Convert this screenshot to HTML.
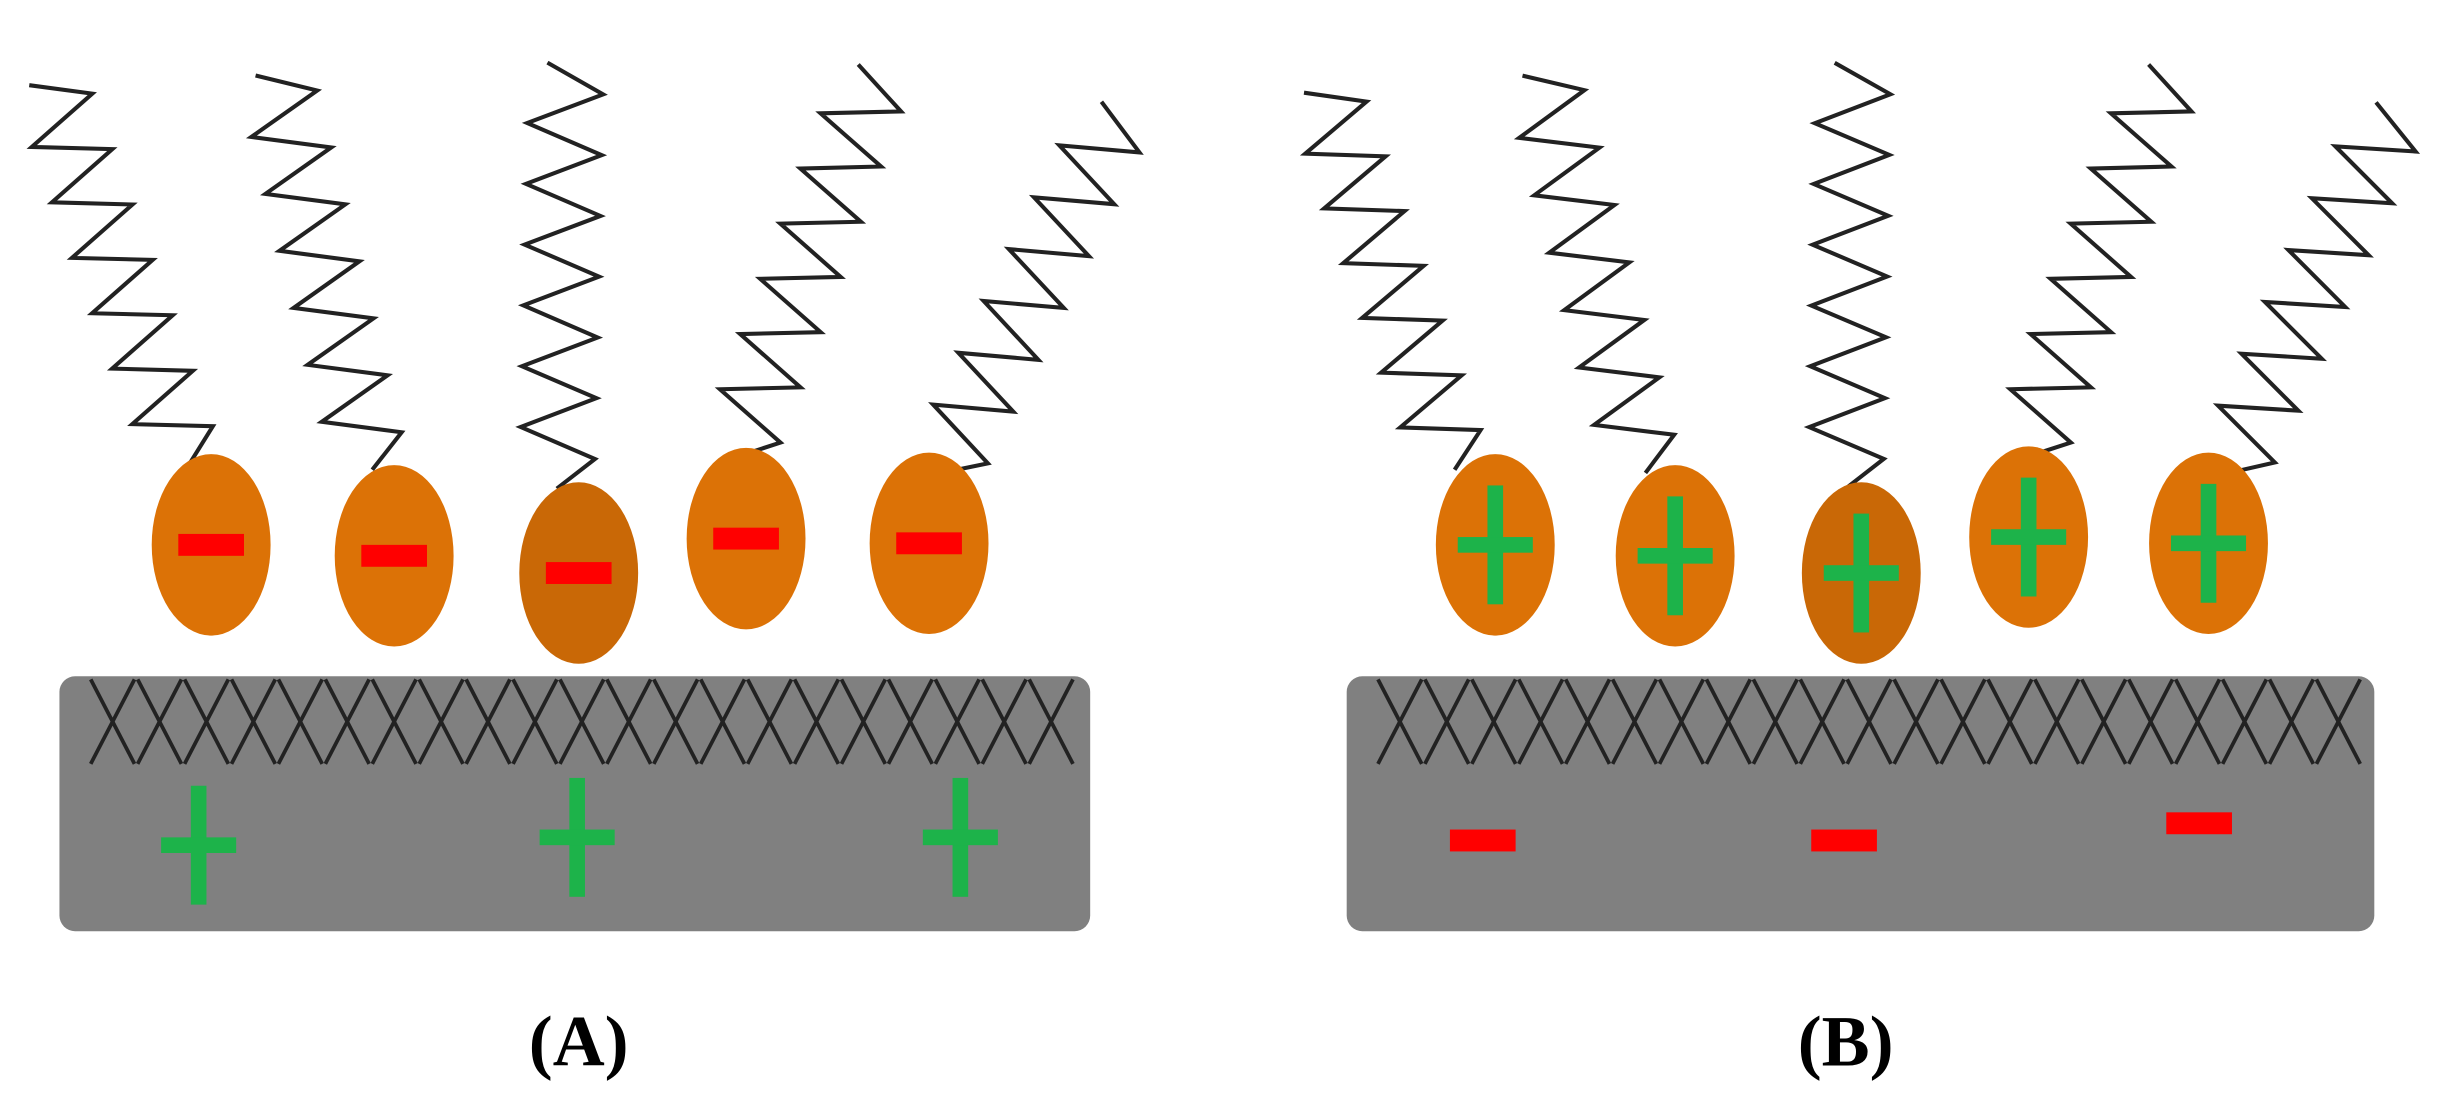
<!DOCTYPE html>
<html><head><meta charset="utf-8"><style>
html,body{margin:0;padding:0;background:#fff;}
svg{display:block}
</style></head><body>
<svg id="s" width="2440" height="1096" viewBox="0 0 1560 700" xmlns="http://www.w3.org/2000/svg">
<rect x="38" y="432" width="659" height="163" rx="10" fill="#808080"/>
<rect x="861" y="432" width="657" height="163" rx="10" fill="#808080"/>
<g id="g"></g>
<text x="370" y="681" font-family="Liberation Serif, serif" font-size="46" font-weight="bold" text-anchor="middle">(A)</text>
<text x="1180" y="681" font-family="Liberation Serif, serif" font-size="46" font-weight="bold" text-anchor="middle">(B)</text>
</svg>
<script>
var g=document.getElementById('g'),NS='http://www.w3.org/2000/svg';
function el(t,a){var e=document.createElementNS(NS,t);for(var k in a)e.setAttribute(k,a[k]);g.appendChild(e);return e;}
function zig(bx,by,tx,ty){var dx=tx-bx,dy=ty-by,L=Math.hypot(dx,dy),ux=dx/L,uy=dy/L,px=-uy,py=ux,n=14,A=24,p=[bx+','+by];
for(var i=1;i<=n;i++){var f=i/n,s=(i%2?1:-1)*A*(i==n?0.5:1);p.push((bx+dx*f+px*s).toFixed(1)+','+(by+dy*f+py*s).toFixed(1));}
el('polyline',{points:p.join(' '),fill:'none',stroke:'#222','stroke-width':2.6,'stroke-linejoin':'miter'});}
function xs(x0,x1){for(var x=x0;x<x1;x+=30){el('line',{x1:x,y1:434,x2:x+28,y2:488,stroke:'#222','stroke-width':2.4});el('line',{x1:x+28,y1:434,x2:x,y2:488,stroke:'#222','stroke-width':2.4});}}
xs(58,680);xs(881,1500);
var sA=[[120,298,30,50],[238,300,175,45],[356,312,362,40],[470,292,560,45],[602,302,715,70]];
var sB=[[930,300,845,55],[1052,302,985,45],[1180,312,1185,40],[1295,292,1385,45],[1425,302,1530,70]];
sA.concat(sB).forEach(function(s){zig(s[0],s[1],s[2],s[3]);});
var eA=[[135,348],[252,355],[370,366],[477,344],[594,347]],eB=[[956,348],[1071,355],[1190,366],[1297,343],[1412,347]];
function ell(c,i){el('ellipse',{cx:c[0],cy:c[1],rx:38,ry:58,fill:i==2?'#c96806':'#dc7206'});}
eA.forEach(function(c,i){ell(c,i);el('rect',{x:c[0]-21,y:c[1]-7,width:42,height:14,fill:'#f00'});});
eB.forEach(function(c,i){ell(c,i);el('rect',{x:c[0]-5,y:c[1]-38,width:10,height:76,fill:'#1db34a'});el('rect',{x:c[0]-24,y:c[1]-5,width:48,height:10,fill:'#1db34a'});});
[[127,540],[369,535],[614,535]].forEach(function(c){el('rect',{x:c[0]-5,y:c[1]-38,width:10,height:76,fill:'#1db34a'});el('rect',{x:c[0]-24,y:c[1]-5,width:48,height:10,fill:'#1db34a'});});
[[948,537],[1179,537],[1406,526]].forEach(function(c){el('rect',{x:c[0]-21,y:c[1]-7,width:42,height:14,fill:'#f00'});});
</script>
</body></html>
